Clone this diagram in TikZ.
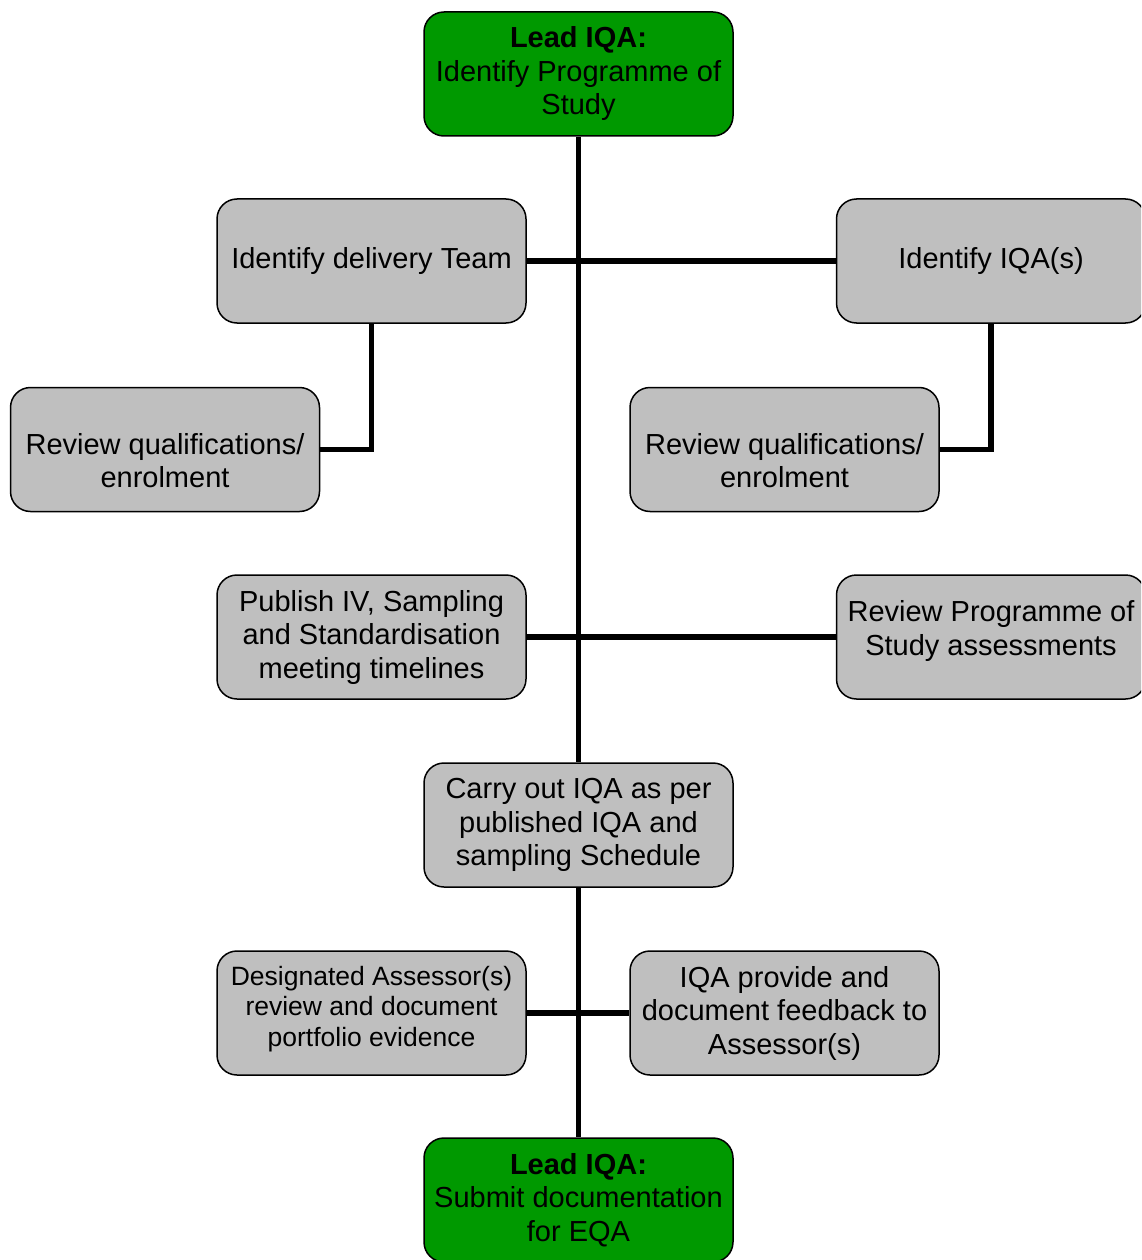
\documentclass[tikz,border=0pt]{standalone}
\usepackage{fontspec}
\setmainfont{Liberation Sans}
\begin{document}
\begin{tikzpicture}[x=1pt, y=-1pt,
  box/.style={draw=black, line width=1.5pt, rounded corners=20pt, fill=boxgray,
    minimum width=309pt, minimum height=124pt, align=center,
    font=\fontsize{29}{33.5}\selectfont, inner sep=2pt},
  lead/.style={box, fill=leadgreen},
  small/.style={font=\fontsize{26.5}{30.5}\selectfont},
  link/.style={line width=5.5pt, draw=black}]
  % Define colors
  \colorlet{boxgray}{black!25}
  \definecolor{leadgreen}{HTML}{009900}

  \clip (0,0) rectangle (1141,1260);
  \fill[white] (0,0) rectangle (1141,1260);

  % Main column
  \node[lead] (start) at (578.5,74) {\textbf{Lead IQA:}\\Identify Programme of\\Study};
  \node[box] (carry) at (578.5,825) {Carry out IQA as per\\published IQA and\\sampling Schedule};
  \node[lead] (submit) at (578.5,1200) {\textbf{Lead IQA:}\\Submit documentation\\for EQA};

  % Left branch
  \node[box] (team) at (371.5,261) {Identify delivery Team};
  \node[box] (revleft) at (165,449.5) {Review qualifications/\\enrolment\\[-55.5pt]};
  \node[box] (publish) at (371.5,637) {Publish IV, Sampling\\and Standardisation\\meeting timelines};
  \node[box, small] (assessor) at (371.5,1013) {Designated Assessor(s)\\review and document\\portfolio evidence\\[-16.5pt]};

  % Right branch
  \node[box] (iqas) at (991,261) {Identify IQA(s)};
  \node[box] (revright) at (784.5,449.5) {Review qualifications/\\enrolment\\[-55.5pt]};
  \node[box] (revprog) at (991,637) {Review Programme of\\Study assessments\\[-15.5pt]};
  \node[box] (feedback) at (784.5,1013) {IQA provide and\\document feedback to\\Assessor(s)};

  % Connectors
  \draw[link] (start) -- (carry);
  \draw[link] (carry) -- (submit);
  \draw[link] (team) -- (iqas);
  \draw[link] (team) |- (revleft);
  \draw[link] (iqas) |- (revright);
  \draw[link] (publish) -- (revprog);
  \draw[link] (assessor) -- (feedback);
\end{tikzpicture}
\end{document}
